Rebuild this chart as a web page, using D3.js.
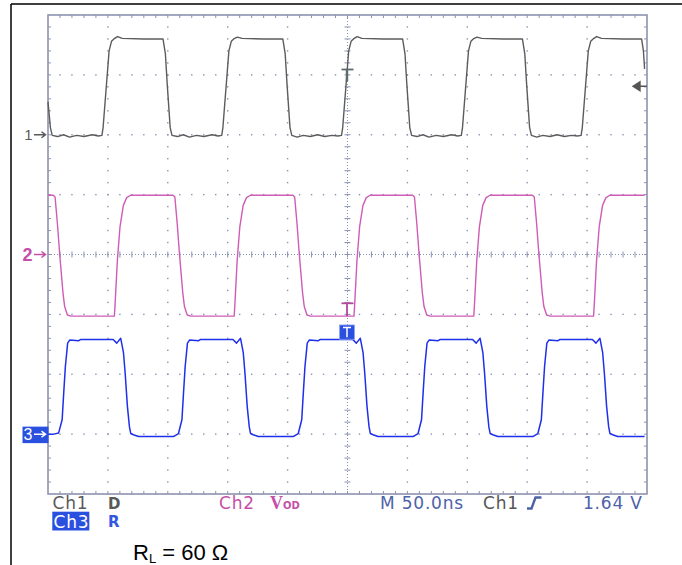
<!DOCTYPE html>
<html>
<head>
<meta charset="utf-8">
<script src="https://cdn.jsdelivr.net/npm/d3@7"></script>
<style>
body { margin: 0; background: #fff; }
svg { display: block; }
</style>
</head>
<body>
<svg id="scope"></svg>
<script>
const width = 682;
const height = 565;

// screen: 10 div of 50 ns, 8 vertical div; values are [ns, div]
const timeDomain = [0, 500];
const divDomain = [0, 8];

const ch1 = [
  [0, 6.55], [2, 6.12], [3.5, 5.99], [8, 5.97], [13, 6.00], [18, 5.96], [24, 5.99], [30, 5.97], [37, 6.00], [42, 5.98],
  [45, 5.99], [46, 6.12], [51, 7.40], [53, 7.56], [55, 7.60], [58, 7.64], [62, 7.61], [80, 7.60], [96, 7.60],
  [98, 7.35], [99.5, 6.85], [102, 6.12], [103.5, 5.99], [108, 5.97], [113, 6.00], [118, 5.96], [124, 5.99], [130, 5.97], [137, 6.00], [142, 5.98],
  [145, 5.99], [146, 6.12], [151, 7.40], [153, 7.56], [155, 7.60], [158, 7.63], [162, 7.61], [180, 7.60], [196, 7.60],
  [198, 7.35], [199.5, 6.85], [202, 6.12], [203.5, 5.99], [208, 5.96], [213, 5.99], [219, 5.97], [225, 6.00], [231, 5.97], [237, 5.99], [242, 5.98],
  [245, 5.99], [246, 6.12], [251, 7.40], [253, 7.56], [255, 7.60], [258, 7.64], [262, 7.61], [280, 7.60], [296, 7.60],
  [298, 7.35], [299.5, 6.85], [302, 6.12], [303.5, 5.99], [308, 5.97], [313, 6.00], [318, 5.96], [324, 5.99], [330, 5.97], [337, 6.00], [342, 5.98],
  [345, 5.99], [346, 6.12], [351, 7.40], [353, 7.56], [355, 7.60], [358, 7.63], [362, 7.61], [380, 7.60], [396, 7.60],
  [398, 7.35], [399.5, 6.85], [402, 6.12], [403.5, 5.99], [408, 5.96], [413, 5.99], [419, 5.97], [425, 6.00], [431, 5.97], [437, 5.99], [442, 5.98],
  [445, 5.99], [446, 6.12], [451, 7.40], [453, 7.56], [455, 7.60], [458, 7.64], [462, 7.61], [480, 7.60], [495.5, 7.60],
  [497, 7.40], [498, 7.10]
];

const ch2 = [
  [0, 4.99], [4.4, 4.99], [5.9, 4.96], [7.8, 4.53], [9.7, 4.02], [12.5, 3.36], [13.9, 3.13], [16.2, 2.99], [19.2, 2.97],
  [55.4, 2.97], [55.9, 3.13], [57.9, 3.90], [60.1, 4.46], [62.9, 4.82], [65.7, 4.95], [69.0, 4.99],
  [104.4, 4.99], [105.9, 4.96], [107.8, 4.53], [109.7, 4.02], [112.5, 3.36], [113.9, 3.13], [116.2, 2.99], [119.2, 2.97],
  [155.4, 2.97], [155.9, 3.13], [157.9, 3.90], [160.1, 4.46], [162.9, 4.82], [165.7, 4.95], [169.0, 4.99],
  [204.4, 4.99], [205.9, 4.96], [207.8, 4.53], [209.7, 4.02], [212.5, 3.36], [213.9, 3.13], [216.2, 2.99], [219.2, 2.97],
  [255.4, 2.97], [255.9, 3.13], [257.9, 3.90], [260.1, 4.46], [262.9, 4.82], [265.7, 4.95], [269.0, 4.99],
  [304.4, 4.99], [305.9, 4.96], [307.8, 4.53], [309.7, 4.02], [312.5, 3.36], [313.9, 3.13], [316.2, 2.99], [319.2, 2.97],
  [355.4, 2.97], [355.9, 3.13], [357.9, 3.90], [360.1, 4.46], [362.9, 4.82], [365.7, 4.95], [369.0, 4.99],
  [404.4, 4.99], [405.9, 4.96], [407.8, 4.53], [409.7, 4.02], [412.5, 3.36], [413.9, 3.13], [416.2, 2.99], [419.2, 2.97],
  [455.4, 2.97], [455.9, 3.13], [457.9, 3.90], [460.1, 4.46], [462.9, 4.82], [465.7, 4.95], [469.0, 4.99], [498, 4.99]
];

const ch3 = [
  [0, 1.00], [4.7, 1.00], [8.9, 1.02], [11.8, 1.24], [13.1, 1.68], [14.5, 2.13], [16.4, 2.52], [18.1, 2.57], [25.7, 2.56], [27.1, 2.58],
  [54.4, 2.58], [57.4, 2.52], [60.7, 2.60], [63.0, 2.36], [64.4, 2.02], [66.3, 1.46], [68.0, 1.12], [69.1, 1.01], [71.3, 0.99], [75.5, 0.96],
  [104.7, 0.96], [108.9, 1.01], [111.8, 1.24], [113.1, 1.68], [114.5, 2.13], [116.4, 2.52], [118.1, 2.57], [125.7, 2.56], [127.1, 2.58],
  [154.4, 2.58], [157.4, 2.52], [160.7, 2.60], [163.0, 2.36], [164.4, 2.02], [166.3, 1.46], [168.0, 1.12], [169.1, 1.01], [171.3, 0.99], [175.5, 0.96],
  [204.7, 0.96], [208.9, 1.01], [211.8, 1.24], [213.1, 1.68], [214.5, 2.13], [216.4, 2.52], [218.1, 2.57], [225.7, 2.56], [227.1, 2.58],
  [254.4, 2.58], [257.4, 2.52], [260.7, 2.60], [263.0, 2.36], [264.4, 2.02], [266.3, 1.46], [268.0, 1.12], [269.1, 1.01], [271.3, 0.99], [275.5, 0.96],
  [304.7, 0.96], [308.9, 1.01], [311.8, 1.24], [313.1, 1.68], [314.5, 2.13], [316.4, 2.52], [318.1, 2.57], [325.7, 2.56], [327.1, 2.58],
  [354.4, 2.58], [357.4, 2.52], [360.7, 2.60], [363.0, 2.36], [364.4, 2.02], [366.3, 1.46], [368.0, 1.12], [369.1, 1.01], [371.3, 0.99], [375.5, 0.96],
  [404.7, 0.96], [408.9, 1.01], [411.8, 1.24], [413.1, 1.68], [414.5, 2.13], [416.4, 2.52], [418.1, 2.57], [425.7, 2.56], [427.1, 2.58],
  [454.4, 2.58], [457.4, 2.52], [460.7, 2.60], [463.0, 2.36], [464.4, 2.02], [466.3, 1.46], [468.0, 1.12], [469.1, 1.01], [471.3, 0.99], [475.5, 0.96],
  [498, 0.96]
];

// channel ground markers on the left edge
const groundMarks = [
  { label: '1', level: 6.0, color: '#5a5a5a', size: 15 },
  { label: '2', level: 4.0, color: '#c54fa7', size: 18 },
  { label: '3', level: 1.0, color: '#ffffff', size: 16, box: '#2a50e0' }
];

const triggerTime = 250;      // ns, screen centre
const triggerLevel = 6.81;    // div, 1.64 V on Ch1

const colors = { ch1: '#5c5c5c', ch2: '#cf5cb6', ch3: '#1e30ea', grid: '#8a92b2', info: '#4d62a8' };

const svg = d3.select('#scope')
    .attr('width', width)
    .attr('height', height)
    .attr('viewBox', `0 0 ${width} ${height}`);

const plotL = 48, plotR = 647, plotT = 15, plotB = 494;
const x = d3.scaleLinear().domain(timeDomain).range([plotL, plotR]);
const y = d3.scaleLinear().domain(divDomain).range([plotB, plotT]);
const xd = d3.scaleLinear().domain([0, 10]).range([plotL, plotR]);

// outer border of the figure
svg.append('line').attr('x1', 11).attr('x2', width).attr('y1', 4).attr('y2', 4)
    .attr('stroke', '#000').attr('stroke-width', 1.5);
svg.append('line').attr('x1', 11).attr('x2', 11).attr('y1', 4).attr('y2', height)
    .attr('stroke', '#000').attr('stroke-width', 1.5);

// graticule
const grid = svg.append('g');
const minorX = d3.range(1, 50).map(i => i / 5);
const minorY = d3.range(1, 40).map(i => i / 5);

const dots = [];
d3.range(1, 10).filter(i => i !== 5).forEach(i => minorY.forEach(m => dots.push([xd(i), y(m)])));
d3.range(1, 8).filter(j => j !== 4).forEach(j => minorX.forEach(m => dots.push([xd(m), y(j)])));
grid.selectAll('rect.dot')
    .data(dots)
    .join('rect')
    .attr('class', 'dot')
    .attr('x', d => d[0] - 0.7)
    .attr('y', d => d[1] - 0.7)
    .attr('width', 1.4)
    .attr('height', 1.4)
    .attr('fill', colors.grid);

// centre cross
grid.append('line').attr('x1', xd(5)).attr('x2', xd(5)).attr('y1', plotT).attr('y2', plotB)
    .attr('stroke', colors.grid).attr('stroke-width', 1).attr('stroke-dasharray', '1,2');
grid.append('line').attr('x1', plotL).attr('x2', plotR).attr('y1', y(4)).attr('y2', y(4))
    .attr('stroke', colors.grid).attr('stroke-width', 1).attr('stroke-dasharray', '1,2');

const ticks = [];
minorX.forEach(m => {
  ticks.push([xd(m), plotT, xd(m), plotT + 3]);
  ticks.push([xd(m), plotB, xd(m), plotB - 3]);
  ticks.push([xd(m), y(4) - 3, xd(m), y(4) + 3]);
});
minorY.forEach(m => {
  ticks.push([plotL, y(m), plotL + 3, y(m)]);
  ticks.push([plotR, y(m), plotR - 3, y(m)]);
  ticks.push([xd(5) - 3, y(m), xd(5) + 3, y(m)]);
});
grid.selectAll('line.tick')
    .data(ticks)
    .join('line')
    .attr('class', 'tick')
    .attr('x1', d => d[0]).attr('y1', d => d[1])
    .attr('x2', d => d[2]).attr('y2', d => d[3])
    .attr('stroke', colors.grid)
    .attr('stroke-width', 1);

grid.append('rect')
    .attr('x', plotL).attr('y', plotT)
    .attr('width', plotR - plotL).attr('height', plotB - plotT)
    .attr('fill', 'none')
    .attr('stroke', '#8c93b0')
    .attr('stroke-width', 1.6);

// traces
const line = d3.line().x(d => x(d[0])).y(d => y(d[1]));
[[ch1, colors.ch1, 1.4], [ch2, colors.ch2, 1.4], [ch3, colors.ch3, 1.5]].forEach(([data, c, w]) => {
  svg.append('path')
      .datum(data)
      .attr('d', line)
      .attr('fill', 'none')
      .attr('stroke', c)
      .attr('stroke-width', w)
      .attr('stroke-linejoin', 'round');
});

// trigger position markers
const tx = x(triggerTime);
function tMark(yTop, yEnd, color, w) {
  svg.append('line').attr('x1', tx - 6).attr('x2', tx + 6).attr('y1', yTop).attr('y2', yTop)
      .attr('stroke', color).attr('stroke-width', 1.8);
  svg.append('line').attr('x1', tx - 0.5).attr('x2', tx - 0.5).attr('y1', yTop).attr('y2', yEnd)
      .attr('stroke', color).attr('stroke-width', w);
}
tMark(y(7.09), y(6.89), '#5e6a70', 2.4);
tMark(y(3.185), y(2.97), '#b4479c', 1.8);
svg.append('rect')
    .attr('x', tx - 8).attr('y', y(2.823))
    .attr('width', 15).attr('height', y(2.584) - y(2.823))
    .attr('fill', '#2a50e0').attr('stroke', '#8fa2ee').attr('stroke-width', 0.8);
svg.append('path')
    .attr('d', `M${tx - 4.5},${y(2.78)}H${tx + 3.5}M${tx - 0.5},${y(2.78)}V${y(2.62)}`)
    .attr('stroke', '#fff').attr('stroke-width', 1.5).attr('fill', 'none');

// trigger level arrow on the right edge
const ty = y(triggerLevel);
svg.append('path')
    .attr('d', `M${plotR - 14},${ty} L${plotR - 7},${ty - 4.5} L${plotR - 7},${ty + 4.5} Z M${plotR - 8},${ty} H${plotR}`)
    .attr('fill', '#555').attr('stroke', '#555').attr('stroke-width', 1.4);

// ground markers
groundMarks.forEach(d => {
  const gy = y(d.level);
  if (d.box) {
    svg.append('rect').attr('x', 22.5).attr('y', gy - 7.5).attr('width', 26).attr('height', 16.5)
        .attr('fill', d.box);
  }
  svg.append('text')
      .attr('x', 32.5).attr('y', gy + d.size * 0.36)
      .attr('text-anchor', 'end')
      .attr('font-family', 'Liberation Sans, Arial, sans-serif')
      .attr('font-weight', d.label === '2' ? 'bold' : 'normal')
      .attr('font-size', d.size)
      .attr('fill', d.color)
      .text(d.label);
  svg.append('path')
      .attr('d', `M34,${gy}H45M41.5,${gy - 3}L45.5,${gy}L41.5,${gy + 3}`)
      .attr('fill', 'none').attr('stroke', d.color).attr('stroke-width', 1.5);
});

// status readout under the graticule
const readout = [
  { text: 'Ch1', x: 52.5, y: 509, color: '#5a5a5a' },
  { text: 'Ch2', x: 219, y: 509, color: '#c54fa7' },
  { text: 'M 50.0ns', x: 380, y: 509, color: colors.info },
  { text: 'Ch1', x: 483, y: 509, color: '#555' },
  { text: '1.64 V', x: 583, y: 509, color: colors.info }
];
const font = 'DejaVu Sans, Verdana, sans-serif';
svg.selectAll('text.readout')
    .data(readout)
    .join('text')
    .attr('class', 'readout')
    .attr('x', d => d.x).attr('y', d => d.y)
    .attr('font-family', font)
    .attr('font-size', 17)
    .attr('letter-spacing', 0.8)
    .attr('fill', d => d.color)
    .text(d => d.text);

svg.append('text').attr('x', 108).attr('y', 509)
    .attr('font-family', font).attr('font-weight', 'bold').attr('font-size', 15)
    .attr('fill', '#5a5a5a').text('D');

svg.append('rect').attr('x', 52.3).attr('y', 511.7).attr('width', 37).attr('height', 18.8)
    .attr('fill', '#2a50e0');
svg.append('text').attr('x', 53.5).attr('y', 528)
    .attr('font-family', font).attr('font-size', 17).attr('letter-spacing', 0.8)
    .attr('fill', '#fff').text('Ch3');
svg.append('text').attr('x', 108).attr('y', 527)
    .attr('font-family', font).attr('font-weight', 'bold').attr('font-size', 15)
    .attr('fill', '#3556e0').text('R');

const vod = svg.append('text').attr('x', 270).attr('y', 509)
    .attr('font-family', 'Liberation Serif, Times New Roman, serif').attr('font-weight', 'bold')
    .attr('fill', '#c54fa7');
vod.append('tspan').attr('font-size', 18).text('V');
vod.append('tspan').attr('font-size', 10).attr('font-family', font).text('OD');

// rising edge symbol
svg.append('path')
    .attr('d', 'M527,508.5H531.5L535.5,497.5H541.5')
    .attr('fill', 'none').attr('stroke', colors.info).attr('stroke-width', 2.4);

// caption
const cap = svg.append('text').attr('x', 133).attr('y', 560)
    .attr('font-family', 'Liberation Sans, Arial, sans-serif').attr('font-size', 22).attr('fill', '#000');
cap.append('tspan').text('R');
cap.append('tspan').attr('font-size', 13).attr('dy', 3).text('L');
cap.append('tspan').attr('dy', -3).text(' = 60 Ω');
</script>
</body>
</html>
